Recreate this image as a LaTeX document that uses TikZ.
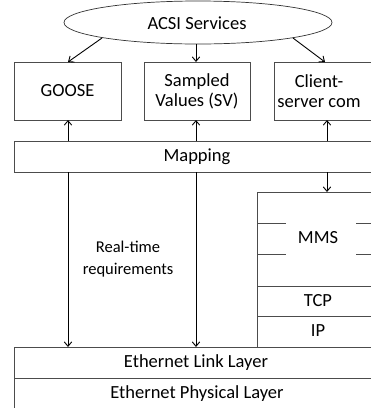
\documentclass[tikz,border=0pt]{standalone}
\usepackage{fontspec}
\setmainfont{Carlito}
\usetikzlibrary{shapes.geometric,arrows.meta}
\begin{document}
\begin{tikzpicture}[x=1pt,y=-1pt,
  box/.style={draw=black!70,line width=0.8pt},
  lbl/.style={font=\fontsize{18.5}{20}\selectfont,align=center,inner sep=0pt},
  small/.style={font=\fontsize{16.5}{22}\selectfont,align=center,inner sep=0pt},
  arr/.style={draw=black,line width=0.9pt,-{Straight Barb[length=4.5pt,width=7.5pt]}}]
\useasboundingbox (0,0) rectangle (371,408);
\begin{scope}
\clip (0,0) rectangle (371,408);
% ellipse
\node[ellipse,draw=black!80,line width=0.7pt,minimum width=268pt,minimum height=43pt,inner sep=0pt] (acsi) at (198,22.5) {};
\node[lbl] (acsit) at (197,23) {ACSI Services};
% top boxes
\draw[box] (14,62) rectangle (121,120);
\node[lbl] (goose) at (67.5,91) {GOOSE};
\draw[box] (144,62) rectangle (250,120);
\node[lbl] (sv) at (197,91) {Sampled\\Values (SV)};
\draw[box] (274,62) rectangle (390,120);
\node[lbl] (cs) at (319,91) {Client-\\server com};
\coordinate (gtop) at (68,62);
\coordinate (stop) at (196,62);
\coordinate (ctop) at (325,62);
\coordinate (gbot) at (68,120);
\coordinate (sbot) at (196,120);
\coordinate (cbot) at (327,120);
% mapping
\draw[box] (14,141) rectangle (390,172);
\node[lbl] (map) at (197,157) {Mapping};
\coordinate (mg1) at (68,141);
\coordinate (ms1) at (196,141);
\coordinate (mc1) at (327,141);
\coordinate (mg2) at (68,172);
\coordinate (ms2) at (196,172);
\coordinate (mc2) at (327,172);
% stack
\draw[box] (390,192) -- (257,192) -- (257,347);
\draw[box] (257,286) -- (390,286);
\draw[box] (257,316) -- (390,316);
\draw[box] (257,223) -- (286,223) (356,223) -- (390,223);
\draw[box] (257,254) -- (286,254) (356,254) -- (390,254);
\node[lbl] (mms) at (318,238) {MMS};
\node[lbl] (tcp) at (318,301) {TCP};
\node[lbl] (ip) at (318,331) {IP};
\coordinate (mmstop) at (327,192);
% ethernet
\draw[box] (14,347) rectangle (390,378);
\draw[box] (14,378) rectangle (390,420);
\node[lbl] (link) at (196,363) {Ethernet Link Layer};
\node[lbl] (phys) at (197,394) {Ethernet Physical Layer};
\coordinate (lg) at (68,347);
\coordinate (ls) at (196,347);
\node[small] (rt) at (128,259) {Real-time\\requirements};
% arrows
\draw[arr] (102,38) -- (gtop);
\draw[arr] (acsi.south) ++(-2,0) -- (stop);
\draw[arr] (293,38) -- (ctop);
\draw[arr] (mg1) -- (gbot);
\draw[arr] (ms1) -- (sbot);
\draw[arr] (mc1) -- (cbot);
\draw[arr] (mg2) -- (lg);
\draw[arr] (ms2) -- (ls);
\draw[arr] (mc2) -- (mmstop);
\end{scope}
\end{tikzpicture}
\end{document}
